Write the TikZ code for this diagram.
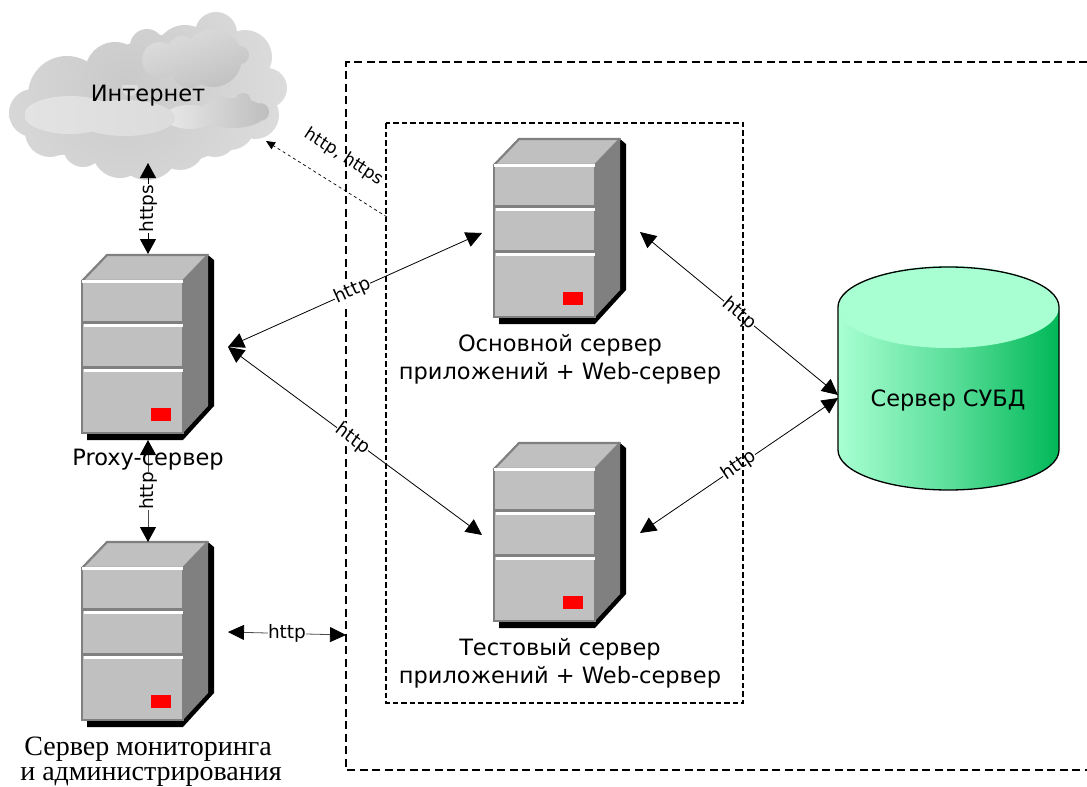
\documentclass[tikz,border=0pt]{standalone}
\usepackage{fontspec}
\setmainfont{DejaVu Sans}
\newfontfamily\serifru{Liberation Serif}
\usetikzlibrary{arrows.meta}
\definecolor{srvface}{HTML}{C0C0C0}
\definecolor{srvside}{HTML}{808080}
\definecolor{dblight}{HTML}{A8FFD2}
\definecolor{dbdark}{HTML}{00B858}
\tikzset{
  x=1pt,y=-1pt,
  link/.style={line width=1pt,{Triangle[width=16pt,length=15pt,color=black]}-{Triangle[width=16pt,length=15pt,color=black]}},
  linkthin/.style={line width=0.8pt,black,{Triangle[width=15.5pt,length=16pt]}-{Triangle[width=15.5pt,length=16pt]}},
  lbl/.style={font=\fontsize{18.5}{20}\selectfont,fill=white,inner sep=0.2pt,text=black},
  captext/.style={font=\fontsize{22.5}{24}\selectfont,inner sep=0pt,text=black},
  capserif/.style={font=\serifru\fontsize{28}{30}\selectfont,inner sep=0pt},
  zone/.style={draw=black,line width=1.6pt,dash pattern=on 8pt off 4.5pt},
  serverbox/.pic={
    % coordinates are relative to the top-left corner of the front face
    \fill[black] (5,152) -- (5,159) -- (101,159) -- (132,125) -- (132,-21) -- (126,-26) -- (126,100) -- (101,152) -- cycle;
    \fill[srvside] (101,0) -- (126,-26) -- (126,125) -- (101,152) -- cycle;
    \draw[srvside,fill=srvface,line width=2.2pt,line join=round] (0,0) -- (25,-26) -- (126,-26) -- (101,0) -- cycle;
    \draw[srvside,fill=srvface,line width=2.2pt] (0,0) -- (0,152) -- (101,152) -- (101,0) -- cycle;
    \fill[white] (0,-1) rectangle (101,2);
    \fill[srvside] (0,40) rectangle (101,43);
    \fill[white] (2,43) rectangle (101,46);
    \fill[srvside] (0,85) rectangle (101,88);
    \fill[white] (2,88) rectangle (101,91);
    \fill[red] (69,127) rectangle (89,140);
  }
}
\begin{document}
\begin{tikzpicture}
\useasboundingbox (0,0) rectangle (1087,787);

% cloud
\begin{scope}
\clip (33,113) circle[radius=24] (67,95) circle[radius=39] (115,72) circle[radius=30]
      (147,46) circle[radius=17] (185,55) circle[radius=30] (216,33) circle[radius=21]
      (245,57) circle[radius=27] (267,88) circle[radius=20] (255,115) circle[radius=24]
      (215,135) circle[radius=22] (147,148) circle[radius=32] (83,147) circle[radius=20]
      (50,132) circle[radius=25] (150,100) circle[radius=60] (100,110) circle[radius=45] (200,105) circle[radius=35]
      (120,150) circle[radius=28] (180,145) circle[radius=25] (230,125) circle[radius=25]
      (60,125) circle[radius=30] (110,125) circle[radius=40] (190,120) circle[radius=40]
      (240,95) circle[radius=38] (160,70) circle[radius=35] (215,70) circle[radius=40];
\shade[inner color=gray!42,outer color=gray!24] (125,85) circle[radius=200];
\end{scope}
\begin{scope}
\clip (160,60) circle[radius=18] (182,50) circle[radius=14] (213,58) circle[radius=29]
      (240,55) circle[radius=9] (190,70) circle[radius=18];
\shade[top color=gray!24,bottom color=gray!50,shading angle=20] (135,20) rectangle (255,95);
\end{scope}
\begin{scope}
\clip (190,117) ellipse[x radius=25,y radius=12] (233,113) ellipse[x radius=33,y radius=15]
      (243,101) circle[radius=8] (220,104) circle[radius=8] (260,112) circle[radius=9];
\shade[left color=gray!18,right color=gray!52] (165,90) rectangle (272,135);
\end{scope}
\begin{scope}
\clip (70,115) ellipse[x radius=46,y radius=19] (125,118) ellipse[x radius=50,y radius=18] (130,88) circle[radius=8];
\shade[left color=gray!22,right color=gray!28] (25,85) rectangle (180,140);
\end{scope}

% outer zone
\coordinate (outerTR) at (1087,62);
\coordinate (outerTL) at (346,62);
\coordinate (outerBL) at (346,770);
\coordinate (outerBR) at (1087,770);
\draw[zone] (outerTR) -- (outerTL) -- (outerBL) -- (outerBR);

% servers
\pic at (82,281) {serverbox};
\pic at (82,568) {serverbox};
\pic at (494,165) {serverbox};
\pic at (494,469) {serverbox};

% database
\shade[left color=dblight,right color=dbdark,middle color=dblight!55!dbdark,draw=none]
  (838,307) -- (838,450) arc[start angle=180,end angle=360,x radius=110.5,y radius=-40] -- (1059,307) -- cycle;
\fill[dblight] (948.5,307) ellipse[x radius=110.5,y radius=41];
\draw[black,line width=1.3pt] (838,450) -- (838,307) arc[start angle=180,end angle=0,x radius=110.5,y radius=-40]
  -- (1059,450) arc[start angle=0,end angle=-180,x radius=110.5,y radius=-40];
\node[captext] (dbcap) at (948,400) {Сервер СУБД};

% connector ends
\coordinate (cloudS) at (148,163);
\coordinate (proxyN) at (148,254);
\coordinate (proxyS) at (148,440);
\coordinate (monN) at (148,542);
\coordinate (proxyE) at (228,347);
\coordinate (mainW) at (482,233);
\coordinate (testW) at (482,535);
\coordinate (mainE) at (640,232);
\coordinate (testE) at (640,533);
\coordinate (dbWa) at (838,395);
\coordinate (dbWb) at (838,398);
\coordinate (monE) at (228,632);
\coordinate (zoneW) at (346,635);
\coordinate (zoneOut) at (387,217);
\coordinate (cloudE) at (266,141);

% connectors
\draw[link,black] (cloudS) -- node[lbl,rotate=90,pos=.5] (l1) {https} (proxyN);
\draw[link,black!70] (proxyS) -- node[lbl,rotate=90,pos=.5] (l2) {http} (monN);
\draw[linkthin] (proxyE) -- node[lbl,rotate=24,pos=.49] (l3) {http} (mainW);
\draw[linkthin] (proxyE) -- node[lbl,rotate=-36.5,pos=.49] (l4) {http} (testW);
\draw[linkthin] (mainE) -- node[lbl,rotate=-40,pos=.5] (l5) {http} (dbWa);
\draw[linkthin] (testE) -- node[lbl,rotate=34,pos=.5] (l6) {http} (dbWb);
\draw[linkthin,black!70,{Triangle[width=15pt,length=16pt,color=black]}-{Triangle[width=15pt,length=16pt,color=black]}] (monE) -- node[lbl,pos=.5] (l7) {http} (zoneW);
\draw[line width=0.7pt,dashed,-{Triangle[width=8pt,length=9pt]}] (zoneOut) -- (cloudE);
\node[font=\fontsize{17}{19}\selectfont,rotate=-33,inner sep=0pt] (l8) at (344,157) {http, https};

% inner zone lies over the connectors
\draw[zone,line width=1.3pt,dash pattern=on 5.5pt off 3pt] (386,123) rectangle (743,703);

% captions
\node[captext] (inet) at (148,96) {Интернет};
\node[captext] (proxycap) at (148,460) {Proxy-сервер};
\node[captext] (main1) at (560,345) {Основной сервер};
\node[captext] (main2) at (560,373) {приложений + Web-сервер};
\node[captext] (test1) at (560,649) {Тестовый сервер};
\node[captext] (test2) at (560,677) {приложений + Web-сервер};
\node[capserif] (mon1) at (148,749) {Сервер мониторинга};
\node[capserif] (mon2) at (151,777) {и администрирования};
\end{tikzpicture}
\end{document}
